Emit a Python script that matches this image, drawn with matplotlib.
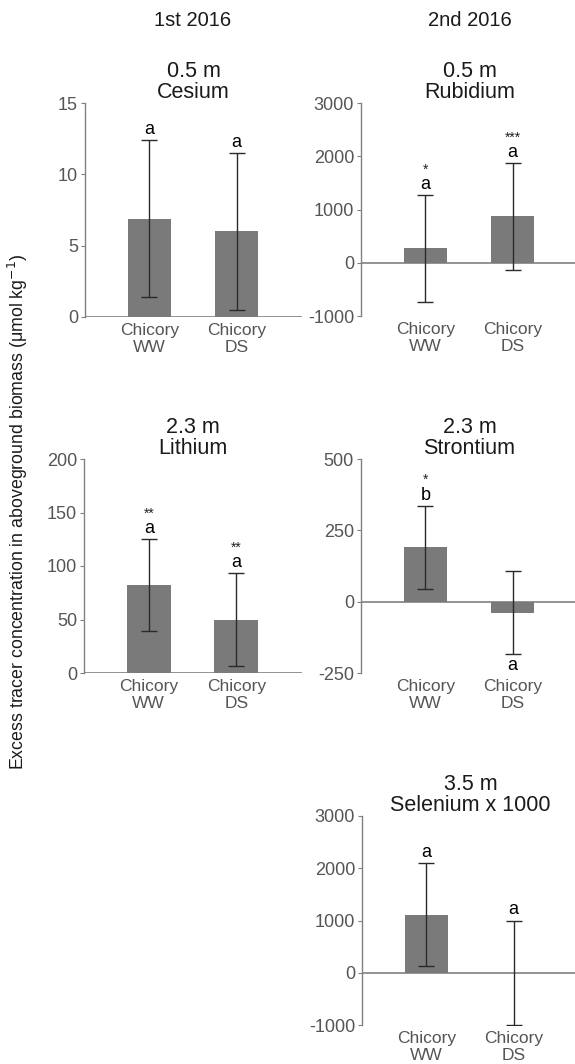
import matplotlib
matplotlib.use("Agg")
import matplotlib.pyplot as plt

plt.rcParams['font.family'] = ['Liberation Sans', 'DejaVu Sans']

categories = ["Chicory\nWW", "Chicory\nDS"]

col_headers = ["1st 2016", "2nd 2016"]

panel_titles = ["0.5 m\nCesium", "0.5 m\nRubidium", "2.3 m\nLithium",
                "2.3 m\nStrontium", "3.5 m\nSelenium x 1000"]

cesium_mean = [6.9, 6.0]
cesium_err = [5.5, 5.5]
rubidium_mean = [270, 870]
rubidium_err = [1000, 1000]
lithium_mean = [82, 50]
lithium_err = [43, 43]
strontium_mean = [190, -38]
strontium_err = [146, 145]
selenium_mean = [1110, 0]
selenium_err = [990, 1000]

cesium_ticks = [0, 5, 10, 15]
rubidium_ticks = [-1000, 0, 1000, 2000, 3000]
lithium_ticks = [0, 50, 100, 150, 200]
strontium_ticks = [-250, 0, 250, 500]
selenium_ticks = [-1000, 0, 1000, 2000, 3000]

cesium_letters = ["a", "a"]
rubidium_letters = ["a", "a"]
lithium_letters = ["a", "a"]
strontium_letters = ["b", "a"]
selenium_letters = ["a", "a"]

cesium_stars = ["", ""]
rubidium_stars = ["*", "***"]
lithium_stars = ["**", "**"]
strontium_stars = ["*", ""]
selenium_stars = ["", ""]

W, H = 575, 1064
fig = plt.figure(figsize=(W / 100, H / 100), dpi=100)

def box(left, top, right, bottom):
    return [left / W, 1 - bottom / H, (right - left) / W, (bottom - top) / H]

panels = [
    (box(85, 103, 302, 317), cesium_mean, cesium_err, cesium_ticks, cesium_letters, cesium_stars, panel_titles[0]),
    (box(361, 103, 578, 316), rubidium_mean, rubidium_err, rubidium_ticks, rubidium_letters, rubidium_stars, panel_titles[1]),
    (box(84, 459, 302, 673), lithium_mean, lithium_err, lithium_ticks, lithium_letters, lithium_stars, panel_titles[2]),
    (box(361, 459, 578, 673), strontium_mean, strontium_err, strontium_ticks, strontium_letters, strontium_stars, panel_titles[3]),
    (box(362, 816, 579, 1025), selenium_mean, selenium_err, selenium_ticks, selenium_letters, selenium_stars, panel_titles[4]),
]

gray = "#808080"
xpos = [1, 2]
for rect, mean, err, ticks, letters, stars, title in panels:
    ax = fig.add_axes(rect)
    ax.bar(xpos, mean, width=0.5, color="#7a7a7a", zorder=2)
    ax.errorbar(xpos, mean, yerr=err, fmt="none", ecolor="#2a2a2a",
                elinewidth=1.0, capsize=6, capthick=1.0, zorder=3)
    ax.set_xlim(0.26, 2.75)
    ax.set_ylim(ticks[0], ticks[-1])
    ax.set_yticks(ticks)
    ax.set_yticklabels([str(t) for t in ticks])
    ax.set_xticks(xpos)
    ax.set_xticklabels(categories)
    ax.tick_params(axis="x", length=0, pad=4, labelsize=12.5, labelcolor="#555555")
    ax.tick_params(axis="y", length=3, width=0.8, color=gray, pad=2,
                   labelsize=13, labelcolor="#555555")
    for s in ["top", "right", "bottom"]:
        ax.spines[s].set_visible(False)
    ax.spines["left"].set_color(gray)
    ax.spines["left"].set_linewidth(1.0)
    ax.axhline(0, color=gray, lw=1.2, zorder=1)
    ax.set_title(title, fontsize=15.5, color="#1a1a1a", pad=3, linespacing=1.0)
    for i in range(2):
        top = mean[i] + err[i]
        bot = mean[i] - err[i]
        if mean[i] < 0:
            ax.annotate(letters[i], (xpos[i], bot), xytext=(0, -2),
                        textcoords="offset points", ha="center", va="top",
                        fontsize=13, color="black")
        else:
            ax.annotate(letters[i], (xpos[i], top), xytext=(0, 1.5),
                        textcoords="offset points", ha="center", va="bottom",
                        fontsize=13, color="black")
            if stars[i]:
                ax.annotate(stars[i], (xpos[i], top), xytext=(0, 13.5),
                            textcoords="offset points", ha="center", va="bottom",
                            fontsize=10, color="#222222")

fig.text(193 / W, 1 - 21 / H, col_headers[0], ha="center", va="center",
         fontsize=14.5, color="#1a1a1a")
fig.text(470 / W, 1 - 21 / H, col_headers[1], ha="center", va="center",
         fontsize=14.5, color="#1a1a1a")

fig.text(18 / W, 1 - 512 / H,
         "Excess tracer concentration in aboveground biomass (\u03bcmol kg$^{-1}$)",
         rotation=90, ha="center", va="center", fontsize=12.8, color="#1a1a1a")

fig.savefig("out.png", dpi=100)
